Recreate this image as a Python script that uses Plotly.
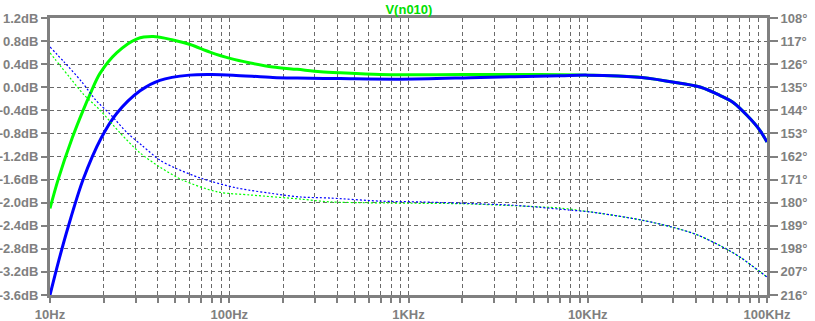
import plotly.graph_objects as go

# ---- data ----
green_mag_f = [10, 11.1, 13.3, 15.3, 17, 19, 23.6, 30.6, 37.6, 48.5, 60.5, 78, 101, 131, 175,
               239, 323, 416, 693, 2000, 5000, 10000, 20000, 32700, 42700, 54500, 64500,
               77500, 91500, 100000]
green_mag_db = [-2.1, -1.6, -0.88, -0.4, -0.07, 0.24, 0.6, 0.84, 0.88, 0.82, 0.74, 0.61,
                0.50, 0.42, 0.35, 0.31, 0.27, 0.25, 0.22, 0.22, 0.22, 0.21, 0.17, 0.07, 0.0,
                -0.14, -0.26, -0.49, -0.75, -0.95]

blue_mag_f = [10, 11.2, 12.6, 15.3, 19.3, 23.6, 31.8, 41, 60, 80, 105, 175, 239, 416,
              897, 2516, 7000, 10000, 20000, 32700, 42700, 54500, 64500, 77500, 91500, 100000]
blue_mag_db = [-3.6, -3.0, -2.43, -1.6, -0.88, -0.45, -0.06, 0.12, 0.21, 0.22, 0.21,
               0.17, 0.16, 0.15, 0.14, 0.17, 0.2, 0.21, 0.17, 0.07, 0.0, -0.14, -0.26, -0.49,
               -0.75, -0.95]

green_ph_f = [10, 11.4, 13, 15.3, 19, 24.6, 31.8, 41, 55, 86, 131, 250, 366, 1000, 1940, 4190,
              7000, 10600, 20000, 29500, 41000, 61000, 72000, 100000]
green_ph_deg = [121.6, 126.6, 131.5, 137.6, 143.9, 152.8, 160.6, 166.1, 171.2, 175.8, 177.0,
                178.6, 179.7, 180.2, 180.4, 181.3, 182.1, 183.7, 186.8, 189.5, 192.6, 198.5,
                201.6, 209.0]

blue_ph_f = [10, 12, 15, 18, 22, 27, 33, 41, 50, 69, 111, 200, 250, 366, 693, 1158, 1940, 3825,
             5400, 7960, 10600, 20000, 29500, 41000, 61000, 72000, 100000]
blue_ph_deg = [119.3, 125.2, 132.8, 140.0, 146.0, 152.8, 158.0, 163.4, 166.5, 170.4, 174.3, 177.0,
               177.8, 178.2, 179.4, 179.7, 180.2, 181.0, 181.8, 182.9, 183.7, 186.8, 189.5,
               192.6, 198.5, 201.6, 209.0]

db_ticks = [1.2, 0.8, 0.4, 0.0, -0.4, -0.8, -1.2, -1.6, -2.0, -2.4, -2.8, -3.2, -3.6]
db_labels = ["1.2dB", "0.8dB", "0.4dB", "0.0dB", "-0.4dB", "-0.8dB", "-1.2dB", "-1.6dB",
             "-2.0dB", "-2.4dB", "-2.8dB", "-3.2dB", "-3.6dB"]
deg_ticks = [108, 117, 126, 135, 144, 153, 162, 171, 180, 189, 198, 207, 216]
deg_labels = [f"{d}°" for d in deg_ticks]
decade_labels = {10: "10Hz", 100: "100Hz", 1000: "1KHz", 10000: "10KHz", 100000: "100KHz"}

# ---- figure ----
GREEN = "#00ff00"
BLUE = "#0000ff"
GREY = "#808080"
GRID = "#6a6a6a"

x_ticks = []
x_text = []
for dec in [10, 100, 1000, 10000]:
    for m in range(1, 10):
        x_ticks.append(dec * m)
        x_text.append(decade_labels.get(dec * m, ""))
x_ticks.append(100000)
x_text.append(decade_labels[100000])

fig = go.Figure()
fig.add_trace(go.Scatter(x=green_ph_f, y=green_ph_deg, yaxis="y2", mode="lines",
                         line=dict(color=GREEN, width=1.2, dash="2px,2px", shape="spline", smoothing=0.8),
                         hoverinfo="skip", showlegend=False))
fig.add_trace(go.Scatter(x=blue_ph_f, y=blue_ph_deg, yaxis="y2", mode="lines",
                         line=dict(color=BLUE, width=1.2, dash="2px,2px", shape="spline", smoothing=0.8),
                         hoverinfo="skip", showlegend=False))
fig.add_trace(go.Scatter(x=green_mag_f, y=green_mag_db, mode="lines",
                         line=dict(color=GREEN, width=3, shape="spline", smoothing=0.9),
                         showlegend=False))
fig.add_trace(go.Scatter(x=blue_mag_f, y=blue_mag_db, mode="lines",
                         line=dict(color=BLUE, width=3, shape="spline", smoothing=0.9),
                         showlegend=False))

tickfont = dict(family="Liberation Sans, Arial, sans-serif", size=13, color=GREY, weight="bold")

fig.update_layout(
    width=815, height=321,
    margin=dict(l=50, r=48, t=18, b=26, autoexpand=False),
    paper_bgcolor="white", plot_bgcolor="white",
    title=dict(text="V(n010)", x=408 / 815, xanchor="center", xref="paper",
               y=1 - 9 / 321, yref="container", yanchor="middle",
               font=dict(family="Liberation Sans, Arial, sans-serif", size=13, color="#00e000",
                         weight="bold")),
    xaxis=dict(type="log", range=[1, 5], tickmode="array", tickvals=x_ticks, ticktext=x_text,
               ticks="outside", ticklen=5, tickwidth=2, tickcolor=GREY, automargin=False,
               showline=True, linewidth=3, linecolor=GREY, mirror=True,
               showgrid=True, gridcolor=GRID, gridwidth=1, griddash="4px,3px",
               tickfont=tickfont, zeroline=False),
    yaxis=dict(range=[-3.6, 1.2], tickmode="array", tickvals=db_ticks, ticktext=db_labels,
               ticks="outside", ticklen=6, tickwidth=2, tickcolor=GREY, automargin=False,
               showline=True, linewidth=3, linecolor=GREY, mirror=True,
               showgrid=True, gridcolor=GRID, gridwidth=1, griddash="4px,3px",
               tickfont=tickfont, zeroline=False),
    yaxis2=dict(range=[216, 108], overlaying="y", side="right", tickmode="array",
                tickvals=deg_ticks, ticktext=deg_labels, ticks="outside", ticklen=8,
                tickwidth=2, tickcolor=GREY, showline=True, linewidth=3, linecolor=GREY,
                automargin=False, showgrid=False, tickfont=tickfont, zeroline=False),
)

fig.write_html("out.html", config={"displayModeBar": False},
               post_script="document.body.style.margin='0';document.body.style.overflow='hidden';")
